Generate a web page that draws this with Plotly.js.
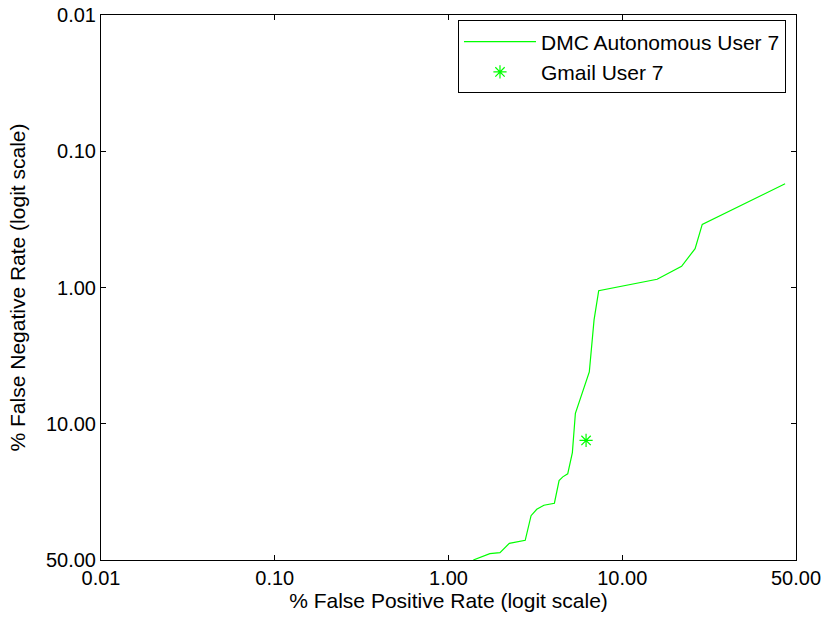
<!DOCTYPE html>
<html>
<head>
<meta charset="utf-8">
<script src="https://cdn.plot.ly/plotly-3.0.1.min.js"></script>
<style>html,body{margin:0;padding:0;background:#fff;}#chart{width:825px;height:621px;}</style>
</head>
<body>
<div id="chart"></div>
<script>
// Data (percent)
const dmcFPR = [1.37, 1.70, 1.94, 2.19, 2.69, 2.90, 3.12, 3.42, 3.91, 4.15, 4.35, 4.63, 4.91, 5.10, 6.07, 6.22, 6.44, 6.82, 13.7, 18.0, 20.8, 22.4, 46.4];
const dmcFNR = [50.0, 47.3, 46.9, 43.0, 41.75, 32.1, 29.8, 28.4, 27.7, 20.7, 19.7, 18.9, 14.0, 7.73, 4.00, 2.65, 1.70, 1.044, 0.863, 0.694, 0.516, 0.343, 0.173];
const gmailFPR = [5.83];
const gmailFNR = [11.7];
const tickLabels = ['0.01', '0.10', '1.00', '10.00', '50.00'];

function logit(pct) { const p = pct / 100; return Math.log(p / (1 - p)); }
const L0 = logit(0.01);
const tickPos = tickLabels.map((_, i) => L0 * (1 - i / (tickLabels.length - 1)));

const font = 'Liberation Sans, Arial, Helvetica, sans-serif';
const green = '#00ff00';

const traces = [
  {
    x: dmcFPR.map(logit), y: dmcFNR.map(logit),
    type: 'scatter', mode: 'lines', name: 'DMC Autonomous User 7',
    line: {color: green, width: 1.2}
  },
  {
    x: gmailFPR.map(logit), y: gmailFNR.map(logit),
    type: 'scatter', mode: 'markers', name: 'Gmail User 7',
    marker: {color: green, symbol: 'asterisk-open', size: 11, line: {color: green, width: 1.2}}
  }
];

const axisCommon = {
  showgrid: false, zeroline: false, showline: true, linecolor: '#000', linewidth: 1,
  mirror: 'ticks', ticks: 'inside', ticklen: 5, tickcolor: '#000', tickwidth: 1,
  tickmode: 'array', tickvals: tickPos, ticktext: tickLabels,
  tickfont: {family: font, size: 20, color: '#000'}
};

const layout = {
  width: 825, height: 621,
  margin: {l: 101, r: 29, t: 15, b: 61},
  paper_bgcolor: '#fff', plot_bgcolor: '#fff',
  showlegend: true,
  xaxis: Object.assign({}, axisCommon, {
    range: [L0, 0],
    title: {text: '% False Positive Rate (logit scale)', font: {family: font, size: 21, color: '#000'}, standoff: 2}
  }),
  yaxis: Object.assign({}, axisCommon, {
    range: [0, L0],
    title: {text: '% False Negative Rate (logit scale)', font: {family: font, size: 21, color: '#000'}, standoff: 14}
  }),
  legend: {
    x: 0.9856, xanchor: 'right', y: 0.99, yanchor: 'top',
    bgcolor: '#fff', bordercolor: '#000', borderwidth: 1,
    font: {family: font, size: 21, color: '#000'},
    itemwidth: 72, tracegroupgap: 0
  }
};

Plotly.newPlot('chart', traces, layout, {displayModeBar: false, staticPlot: true});
</script>
</body>
</html>
